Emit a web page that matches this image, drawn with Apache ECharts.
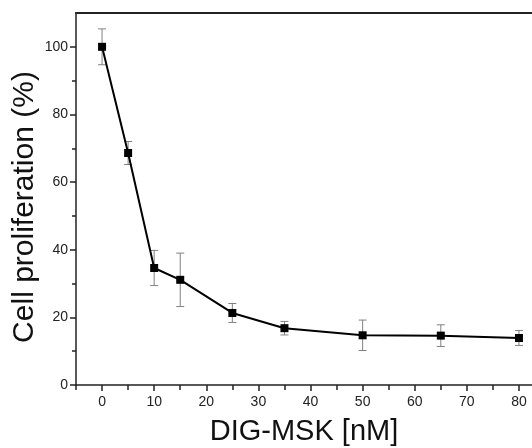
<!DOCTYPE html>
<html>
<head>
    <meta charset="utf-8">
    <title>DIG-MSK cell proliferation</title>
    <script src="https://cdn.jsdelivr.net/npm/echarts@6/dist/echarts.min.js"></script>
    <style>
        html, body { margin: 0; padding: 0; background: #fff; }
    </style>
</head>
<body>
    <div id="main" style="width: 532px;height:448px;"></div>

    <script type="text/javascript">
        // data
        var doses = [0, 5, 10, 15, 25, 35, 50, 65, 80];
        var prolif = [100, 68.6, 34.6, 31.1, 21.3, 16.8, 14.7, 14.6, 13.9];
        var errs = [5.3, 3.4, 5.2, 7.9, 2.8, 2.0, 4.5, 3.2, 2.2];

        var xTicks = [0, 10, 20, 30, 40, 50, 60, 70, 80];
        var xMinor = [-5, 5, 15, 25, 35, 45, 55, 65, 75];
        var yTicks = [0, 20, 40, 60, 80, 100];
        var yMinor = [10, 30, 50, 70, 90];

        var lineData = doses.map(function (d, i) { return [d, prolif[i]]; });
        var errData = doses.map(function (d, i) { return [d, prolif[i] - errs[i], prolif[i] + errs[i]]; });

        var font = "'Liberation Sans', Arial, sans-serif";
        var ink = '#222';

        var chart = echarts.init(document.getElementById('main'));
        chart.setOption({
            animation: false,
            grid: {
                left: 76,
                right: 0,
                top: 13,
                bottom: 63,
                containLabel: false,
                outerBoundsMode: 'none'
            },
            xAxis: [{
                type: 'value',
                min: -5,
                max: 82.5,
                position: 'bottom',
                name: 'DIG-MSK [nM]',
                nameLocation: 'middle',
                nameGap: 32,
                nameMoveOverlap: false,
                nameTextStyle: { fontSize: 29, color: '#111', fontFamily: font },
                axisLine: { show: true, onZero: false, lineStyle: { color: ink, width: 1.5 } },
                axisTick: { show: true, customValues: xTicks, length: 6, lineStyle: { color: ink, width: 1.5 } },
                axisLabel: { customValues: xTicks, fontSize: 14, color: ink, fontFamily: font, margin: 10 },
                splitLine: { show: false }
            }, {
                type: 'value',
                min: -5,
                max: 82.5,
                position: 'bottom',
                axisLine: { show: false, onZero: false },
                axisTick: { show: true, customValues: xMinor, length: 5, lineStyle: { color: ink, width: 1.5 } },
                axisLabel: { show: false },
                splitLine: { show: false }
            }, {
                type: 'value',
                min: -5,
                max: 82.5,
                position: 'top',
                axisLine: { show: true, onZero: false, lineStyle: { color: ink, width: 2 } },
                axisTick: { show: false },
                axisLabel: { show: false },
                splitLine: { show: false }
            }],
            yAxis: [{
                type: 'value',
                min: 0,
                max: 110,
                position: 'left',
                name: 'Cell proliferation (%)',
                nameLocation: 'middle',
                nameGap: 36,
                nameMoveOverlap: false,
                nameTextStyle: { fontSize: 30, color: '#111', fontFamily: font, padding: [0, 16, 0, 0] },
                axisLine: { show: true, onZero: false, lineStyle: { color: ink, width: 1.5 } },
                axisTick: { show: true, customValues: yTicks, length: 6, lineStyle: { color: ink, width: 1.5 } },
                axisLabel: { customValues: yTicks, fontSize: 14, color: ink, fontFamily: font, margin: 8 },
                splitLine: { show: false }
            }, {
                type: 'value',
                min: 0,
                max: 110,
                position: 'left',
                axisLine: { show: false, onZero: false },
                axisTick: { show: true, customValues: yMinor, length: 4, lineStyle: { color: ink, width: 1.5 } },
                axisLabel: { show: false },
                splitLine: { show: false }
            }],
            series: [{
                name: 'error',
                type: 'custom',
                xAxisIndex: 0,
                yAxisIndex: 0,
                z: 1,
                encode: { x: 0, y: [1, 2] },
                data: errData,
                renderItem: function (params, api) {
                    var x = api.value(0);
                    var lo = api.coord([x, api.value(1)]);
                    var hi = api.coord([x, api.value(2)]);
                    var w = 4;
                    var st = { stroke: '#808080', lineWidth: 1 };
                    return {
                        type: 'group',
                        children: [
                            { type: 'line', shape: { x1: hi[0], y1: hi[1], x2: lo[0], y2: lo[1] }, style: st },
                            { type: 'line', shape: { x1: hi[0] - w, y1: hi[1], x2: hi[0] + w, y2: hi[1] }, style: st },
                            { type: 'line', shape: { x1: lo[0] - w, y1: lo[1], x2: lo[0] + w, y2: lo[1] }, style: st }
                        ]
                    };
                }
            }, {
                name: 'Cell proliferation',
                type: 'line',
                xAxisIndex: 0,
                yAxisIndex: 0,
                z: 3,
                data: lineData,
                symbol: 'rect',
                symbolSize: 8,
                itemStyle: { color: '#000' },
                lineStyle: { color: '#000', width: 2 }
            }]
        });
    </script>
</body>
</html>
